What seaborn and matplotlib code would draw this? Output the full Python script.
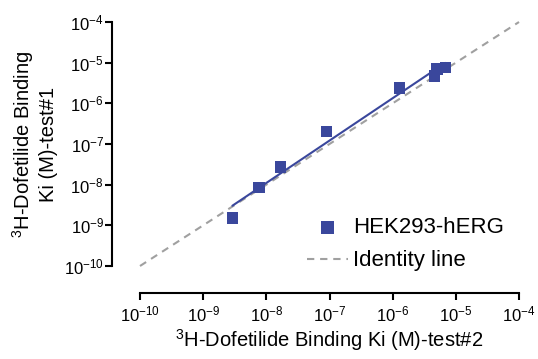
import numpy as np
import pandas as pd
import matplotlib
matplotlib.use("Agg")
import matplotlib.pyplot as plt
import seaborn as sns


# =========================
# Data (Ki values, M)
# =========================

ki_test2 = [2.9e-9, 7.7e-9, 1.66e-8, 8.9e-8, 1.29e-6, 4.6e-6, 5.0e-6, 6.8e-6]
ki_test1 = [1.5e-9, 8.6e-9, 2.7e-8, 2.0e-7, 2.4e-6, 4.7e-6, 7.0e-6, 7.5e-6]

identity_x = [1e-10, 1e-4]
tick_exponents = [-10, -9, -8, -7, -6, -5, -4]

data = pd.DataFrame({"test2": ki_test2, "test1": ki_test1})

# linear fit in log space
slope, intercept = np.polyfit(np.log10(data["test2"]), np.log10(data["test1"]), 1)
fit = pd.DataFrame({"x": [data["test2"].min(), data["test2"].max()]})
fit["y"] = 10 ** (intercept + slope * np.log10(fit["x"]))

ident = pd.DataFrame({"x": identity_x, "y": identity_x})


# =========================
# Style
# =========================

sns.set_style("ticks")
plt.rcParams["font.family"] = ["Liberation Sans", "DejaVu Sans"]
plt.rcParams["mathtext.fontset"] = "custom"
plt.rcParams["mathtext.rm"] = "Liberation Sans"
plt.rcParams["mathtext.default"] = "regular"
plt.rcParams["text.color"] = "black"
plt.rcParams["axes.labelcolor"] = "black"
plt.rcParams["xtick.color"] = "black"
plt.rcParams["ytick.color"] = "black"
plt.rcParams["axes.edgecolor"] = "black"

blue = "#3A479C"
grey = "#A0A0A0"


# =========================
# Plot
# =========================

fig = plt.figure(figsize=(5.38, 3.59), dpi=100)
ax = fig.add_axes([140 / 538, 1 - 266 / 359, 379 / 538, 244 / 359])

sns.lineplot(x="x", y="y", data=ident, ax=ax, color=grey, linewidth=1.5,
             linestyle=(0, (3.5, 2.8)), label="Identity line", clip_on=False)
sns.lineplot(x="x", y="y", data=fit, ax=ax, color=blue, linewidth=1.5,
             legend=False)
sns.scatterplot(x="test2", y="test1", data=data, ax=ax, marker="s", s=68,
                color=blue, edgecolor="none", label="HEK293-hERG", zorder=3)

ax.set_xscale("log")
ax.set_yscale("log")
ax.set_xlim(1e-10, 1e-4)
ax.set_ylim(1e-10, 1e-4)

ticks = [10.0 ** e for e in tick_exponents]
labels = ["10$^{%d}$" % e for e in tick_exponents]
ax.set_xticks(ticks)
ax.set_xticklabels(labels)
ax.set_yticks(ticks)
ax.set_yticklabels(labels)
ax.minorticks_off()

for side in ["top", "right"]:
    ax.spines[side].set_visible(False)
ax.spines["left"].set_position(("outward", 20))
ax.spines["bottom"].set_position(("outward", 19.5))
for side in ["left", "bottom"]:
    ax.spines[side].set_linewidth(1.5)

ax.tick_params(axis="both", length=5, width=1.5, labelsize=12, direction="out")
ax.tick_params(axis="y", pad=1)
ax.tick_params(axis="x", pad=3)

ax.set_xlabel("$^{3}$H-Dofetilide Binding Ki (M)-test#2", fontsize=14.5, labelpad=2)
ax.set_ylabel("$^{3}$H-Dofetilide Binding\nKi (M)-test#1", fontsize=14.5, labelpad=4)

handles, leg_labels = ax.get_legend_handles_labels()
order = [leg_labels.index("HEK293-hERG"), leg_labels.index("Identity line")]
leg = ax.legend([handles[i] for i in order], [leg_labels[i] for i in order],
                loc="upper left", bbox_to_anchor=(0.44, 0.2), frameon=False,
                fontsize=16, handlelength=1.85, handletextpad=0.22,
                labelspacing=0.55, borderpad=0, borderaxespad=0)
leg.legend_handles[0].set_sizes([85])

plt.savefig("out.png", dpi=100)
plt.close()
